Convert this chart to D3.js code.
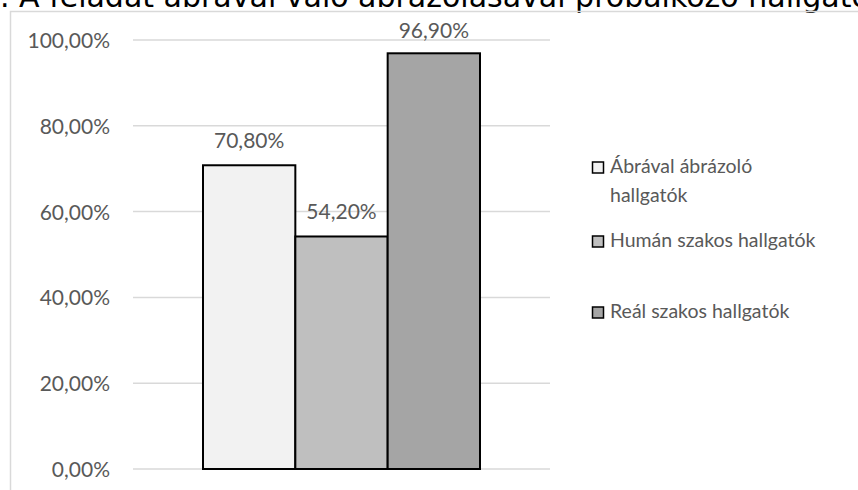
<!DOCTYPE html>
<html>
<head>
<meta charset="utf-8">
<script src="https://cdn.jsdelivr.net/npm/d3@7/dist/d3.min.js"></script>
<style>
  html, body { margin: 0; padding: 0; background: #fff; overflow: hidden; }
  svg { display: block; }
</style>
</head>
<body>
<svg id="chart" width="858" height="490"></svg>
<script>
// Chart data
const categories = ["Ábrával ábrázoló hallgatók", "Humán szakos hallgatók", "Reál szakos hallgatók"];
const values = [70.8, 54.2, 96.9];
const yTicks = [0, 20, 40, 60, 80, 100];
const captionPrefix = "10. ábra";
const captionText = ". A feladat ábrával való ábrázolásával próbálkozó hallgatók aránya";
const legendLines = [["Ábrával ábrázoló", "hallgatók"], ["Humán szakos hallgatók"], ["Reál szakos hallgatók"]];

const fills = ["#f2f2f2", "#bfbfbf", "#a5a5a5"];
const textColor = "#595959";
const gridColor = "#d9d9d9";
const fontFam = "Lato, 'Open Sans', sans-serif";

const svg = d3.select("#chart");

const fmt = v => d3.format(".2f")(v).replace(".", ",") + "%";

// Caption above the frame; its start runs off the left edge
const cap = svg.append("text")
  .attr("y", 7)
  .attr("font-family", "'DejaVu Sans', sans-serif")
  .attr("font-size", 30)
  .attr("fill", "#000")
  .text(captionPrefix + captionText);
const prefixW = cap.node().getSubStringLength(0, captionPrefix.length);
cap.attr("x", 0 - prefixW);

// Chart frame
svg.append("path")
  .attr("d", "M10.5,490 V11.5 H858")
  .attr("fill", "none")
  .attr("stroke", gridColor)
  .attr("stroke-width", 1.5);

const y = d3.scaleLinear().domain([0, 100]).range([469, 40]);
const x = d3.scaleBand().domain(categories).range([203, 480]).padding(0);

// Gridlines
svg.append("g")
  .selectAll("line")
  .data(yTicks)
  .join("line")
  .attr("x1", 133).attr("x2", 550)
  .attr("y1", d => y(d)).attr("y2", d => y(d))
  .attr("stroke", gridColor)
  .attr("stroke-width", 1.5);

// Y axis labels
const yAxis = d3.axisLeft(y).tickValues(yTicks).tickFormat(fmt).tickSize(0).tickPadding(0);
const gy = svg.append("g").attr("transform", "translate(110,0)").call(yAxis);
gy.select(".domain").remove();
gy.selectAll("text")
  .attr("font-family", fontFam)
  .attr("font-size", 21)
  .attr("fill", textColor)
  .attr("dy", "0.36em");

// Bars
svg.append("g")
  .selectAll("rect")
  .data(values)
  .join("rect")
  .attr("x", (d, i) => x(categories[i]))
  .attr("width", x.bandwidth())
  .attr("y", d => y(d))
  .attr("height", d => y(0) - y(d))
  .attr("fill", (d, i) => fills[i])
  .attr("stroke", "#000")
  .attr("stroke-width", 2);

// Value labels
svg.append("g")
  .selectAll("text")
  .data(values)
  .join("text")
  .attr("x", (d, i) => x(categories[i]) + x.bandwidth() / 2)
  .attr("y", d => Math.max(y(d) - 17, 38))
  .attr("text-anchor", "middle")
  .attr("font-family", fontFam)
  .attr("font-size", 21)
  .attr("fill", textColor)
  .text(fmt);

// Legend
const legendBase = [173, 247, 318];
const lg = svg.append("g");
legendLines.forEach((lines, i) => {
  lg.append("rect")
    .attr("x", 592.5).attr("y", legendBase[i] - 11)
    .attr("width", 11).attr("height", 11)
    .attr("fill", fills[i])
    .attr("stroke", "#000")
    .attr("stroke-width", 1.5);
  lines.forEach((t, j) => {
    lg.append("text")
      .attr("x", 610)
      .attr("y", legendBase[i] + j * 28.5)
      .attr("font-family", fontFam)
      .attr("font-size", 19.5)
      .attr("fill", textColor)
      .text(t);
  });
});
</script>
</body>
</html>
